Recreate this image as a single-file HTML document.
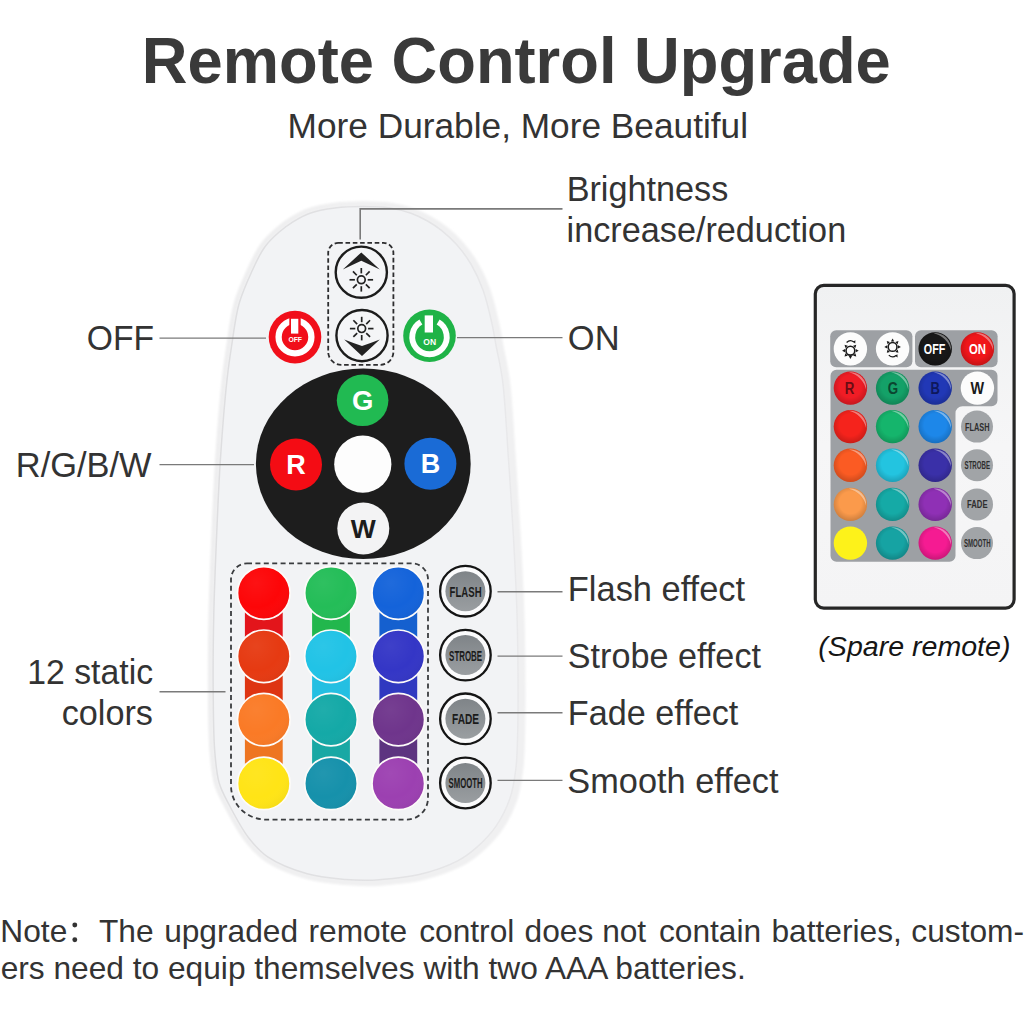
<!DOCTYPE html>
<html><head><meta charset="utf-8"><title>Remote Control Upgrade</title>
<style>
html,body{margin:0;padding:0;background:#fff;}
body{width:1024px;height:1024px;overflow:hidden;position:relative;font-family:"Liberation Sans",sans-serif;}
svg{position:absolute;left:0;top:0;display:block;}
text{font-family:"Liberation Sans",sans-serif;}
</style></head><body>
<svg width="1024" height="1024" viewBox="0 0 1024 1024">
<defs>
<filter id="soft" x="-5%" y="-5%" width="110%" height="110%"><feGaussianBlur stdDeviation="0.45"/></filter>
<filter id="soft2" x="-5%" y="-5%" width="110%" height="110%"><feGaussianBlur stdDeviation="0.9"/></filter>
<radialGradient id="gloss" cx="0.35" cy="0.3" r="0.8"><stop offset="0" stop-color="#fff" stop-opacity="0.05"/><stop offset="0.6" stop-color="#fff" stop-opacity="0"/><stop offset="1" stop-color="#000" stop-opacity="0.05"/></radialGradient>
<linearGradient id="edgeg" gradientUnits="userSpaceOnUse" x1="210" y1="0" x2="520" y2="0"><stop offset="0" stop-color="#dedee0"/><stop offset="0.6" stop-color="#e2e2e4"/><stop offset="1" stop-color="#e9e9eb"/></linearGradient>
<linearGradient id="sparebody" x1="0" y1="0" x2="0" y2="1"><stop offset="0" stop-color="#f0f1f2"/><stop offset="0.5" stop-color="#f6f6f7"/><stop offset="1" stop-color="#f4f4f5"/></linearGradient>
<radialGradient id="sgloss" cx="0.5" cy="0.45" r="0.55"><stop offset="0.6" stop-color="#000" stop-opacity="0"/><stop offset="1" stop-color="#000" stop-opacity="0.18"/></radialGradient>
<linearGradient id="graybtn" x1="0" y1="0" x2="0" y2="1"><stop offset="0" stop-color="#7f8488"/><stop offset="1" stop-color="#9a9ea1"/></linearGradient>
</defs>
<rect width="1024" height="1024" fill="#ffffff"/>

<text transform="translate(516.3,83.1) scale(1,1.025)" x="0" y="0" text-anchor="middle" font-size="63" font-weight="bold" fill="#3a3a3a" textLength="749" lengthAdjust="spacingAndGlyphs">Remote Control Upgrade</text>
<text x="517.8" y="137.7" text-anchor="middle" font-size="34.5" fill="#333" textLength="460.5" lengthAdjust="spacingAndGlyphs">More Durable, More Beautiful</text>
<g filter="url(#soft2)"><path d="M362.50,206.50 C353.33,206.50 343.91,206.84 335.00,208.00 C326.42,209.12 317.38,210.62 310.00,213.20 C303.62,215.43 298.25,218.57 293.00,221.80 C288.02,224.87 283.70,228.04 279.20,232.00 C274.21,236.38 268.95,241.16 264.60,247.20 C259.58,254.17 255.68,263.09 251.60,272.00 C247.08,281.88 242.26,292.43 239.00,304.00 C235.37,316.88 233.67,332.72 231.60,346.00 C229.75,357.91 228.49,366.32 227.00,380.00 C224.74,400.66 222.23,431.99 220.50,458.00 C218.77,483.99 217.72,510.00 216.60,536.00 C215.48,562.00 214.37,588.00 213.80,614.00 C213.23,640.00 212.97,667.70 213.20,692.00 C213.40,713.31 213.40,735.31 214.80,752.00 C215.81,764.06 216.51,773.78 219.20,783.00 C221.54,791.01 224.92,796.68 229.00,804.50 C234.21,814.49 241.44,828.47 248.60,837.70 C254.65,845.51 259.81,851.61 268.10,857.20 C278.38,864.14 293.92,870.08 307.20,873.80 C320.01,877.39 335.62,878.50 346.30,879.50 C353.65,880.19 359.22,880.28 365.00,880.30 C370.00,880.32 373.17,880.28 379.00,879.80 C388.77,879.00 405.22,877.84 418.10,874.80 C431.30,871.68 446.70,866.49 457.20,861.10 C465.16,857.01 470.48,852.88 476.70,847.40 C483.56,841.35 490.76,833.91 496.25,825.90 C501.88,817.69 506.64,808.09 509.90,798.60 C513.13,789.21 514.53,779.11 515.80,769.30 C517.05,759.58 517.11,750.97 517.50,740.00 C517.99,725.97 518.11,709.93 518.10,692.00 C518.08,669.14 517.78,639.99 517.00,614.00 C516.22,587.99 514.83,561.99 513.40,536.00 C511.97,509.99 510.22,483.99 508.40,458.00 C506.58,431.99 505.19,400.58 502.50,380.00 C500.72,366.37 498.11,356.48 496.20,346.25 C494.60,337.72 493.72,331.23 491.80,322.80 C489.51,312.74 486.66,300.10 483.00,290.00 C479.67,280.81 475.78,272.27 471.20,264.50 C466.90,257.22 461.76,250.45 456.60,244.60 C451.91,239.29 446.86,234.65 441.80,230.60 C437.14,226.88 432.55,223.87 427.50,221.00 C422.30,218.05 416.94,215.32 411.00,213.20 C404.53,210.89 397.53,209.13 390.00,208.00 C381.51,206.73 371.67,206.50 362.50,206.50 Z" fill="#ededee" stroke="#ededee" stroke-width="10.5" stroke-linejoin="round"/><path d="M362.50,206.50 C353.33,206.50 343.91,206.84 335.00,208.00 C326.42,209.12 317.38,210.62 310.00,213.20 C303.62,215.43 298.25,218.57 293.00,221.80 C288.02,224.87 283.70,228.04 279.20,232.00 C274.21,236.38 268.95,241.16 264.60,247.20 C259.58,254.17 255.68,263.09 251.60,272.00 C247.08,281.88 242.26,292.43 239.00,304.00 C235.37,316.88 233.67,332.72 231.60,346.00 C229.75,357.91 228.49,366.32 227.00,380.00 C224.74,400.66 222.23,431.99 220.50,458.00 C218.77,483.99 217.72,510.00 216.60,536.00 C215.48,562.00 214.37,588.00 213.80,614.00 C213.23,640.00 212.97,667.70 213.20,692.00 C213.40,713.31 213.40,735.31 214.80,752.00 C215.81,764.06 216.51,773.78 219.20,783.00 C221.54,791.01 224.92,796.68 229.00,804.50 C234.21,814.49 241.44,828.47 248.60,837.70 C254.65,845.51 259.81,851.61 268.10,857.20 C278.38,864.14 293.92,870.08 307.20,873.80 C320.01,877.39 335.62,878.50 346.30,879.50 C353.65,880.19 359.22,880.28 365.00,880.30 C370.00,880.32 373.17,880.28 379.00,879.80 C388.77,879.00 405.22,877.84 418.10,874.80 C431.30,871.68 446.70,866.49 457.20,861.10 C465.16,857.01 470.48,852.88 476.70,847.40 C483.56,841.35 490.76,833.91 496.25,825.90 C501.88,817.69 506.64,808.09 509.90,798.60 C513.13,789.21 514.53,779.11 515.80,769.30 C517.05,759.58 517.11,750.97 517.50,740.00 C517.99,725.97 518.11,709.93 518.10,692.00 C518.08,669.14 517.78,639.99 517.00,614.00 C516.22,587.99 514.83,561.99 513.40,536.00 C511.97,509.99 510.22,483.99 508.40,458.00 C506.58,431.99 505.19,400.58 502.50,380.00 C500.72,366.37 498.11,356.48 496.20,346.25 C494.60,337.72 493.72,331.23 491.80,322.80 C489.51,312.74 486.66,300.10 483.00,290.00 C479.67,280.81 475.78,272.27 471.20,264.50 C466.90,257.22 461.76,250.45 456.60,244.60 C451.91,239.29 446.86,234.65 441.80,230.60 C437.14,226.88 432.55,223.87 427.50,221.00 C422.30,218.05 416.94,215.32 411.00,213.20 C404.53,210.89 397.53,209.13 390.00,208.00 C381.51,206.73 371.67,206.50 362.50,206.50 Z" transform="translate(2.2,0.6)" fill="#efeff0" stroke="#f0f0f1" stroke-width="10.5" stroke-linejoin="round"/></g>
<g filter="url(#soft)"><path d="M362.50,206.50 C353.33,206.50 343.91,206.84 335.00,208.00 C326.42,209.12 317.38,210.62 310.00,213.20 C303.62,215.43 298.25,218.57 293.00,221.80 C288.02,224.87 283.70,228.04 279.20,232.00 C274.21,236.38 268.95,241.16 264.60,247.20 C259.58,254.17 255.68,263.09 251.60,272.00 C247.08,281.88 242.26,292.43 239.00,304.00 C235.37,316.88 233.67,332.72 231.60,346.00 C229.75,357.91 228.49,366.32 227.00,380.00 C224.74,400.66 222.23,431.99 220.50,458.00 C218.77,483.99 217.72,510.00 216.60,536.00 C215.48,562.00 214.37,588.00 213.80,614.00 C213.23,640.00 212.97,667.70 213.20,692.00 C213.40,713.31 213.40,735.31 214.80,752.00 C215.81,764.06 216.51,773.78 219.20,783.00 C221.54,791.01 224.92,796.68 229.00,804.50 C234.21,814.49 241.44,828.47 248.60,837.70 C254.65,845.51 259.81,851.61 268.10,857.20 C278.38,864.14 293.92,870.08 307.20,873.80 C320.01,877.39 335.62,878.50 346.30,879.50 C353.65,880.19 359.22,880.28 365.00,880.30 C370.00,880.32 373.17,880.28 379.00,879.80 C388.77,879.00 405.22,877.84 418.10,874.80 C431.30,871.68 446.70,866.49 457.20,861.10 C465.16,857.01 470.48,852.88 476.70,847.40 C483.56,841.35 490.76,833.91 496.25,825.90 C501.88,817.69 506.64,808.09 509.90,798.60 C513.13,789.21 514.53,779.11 515.80,769.30 C517.05,759.58 517.11,750.97 517.50,740.00 C517.99,725.97 518.11,709.93 518.10,692.00 C518.08,669.14 517.78,639.99 517.00,614.00 C516.22,587.99 514.83,561.99 513.40,536.00 C511.97,509.99 510.22,483.99 508.40,458.00 C506.58,431.99 505.19,400.58 502.50,380.00 C500.72,366.37 498.11,356.48 496.20,346.25 C494.60,337.72 493.72,331.23 491.80,322.80 C489.51,312.74 486.66,300.10 483.00,290.00 C479.67,280.81 475.78,272.27 471.20,264.50 C466.90,257.22 461.76,250.45 456.60,244.60 C451.91,239.29 446.86,234.65 441.80,230.60 C437.14,226.88 432.55,223.87 427.50,221.00 C422.30,218.05 416.94,215.32 411.00,213.20 C404.53,210.89 397.53,209.13 390.00,208.00 C381.51,206.73 371.67,206.50 362.50,206.50 Z" fill="#f2f3f5" stroke="url(#edgeg)" stroke-width="1.5"/></g>
<polyline points="360.2,239.6 360.2,208.9 562.5,208.9" fill="none" stroke="#7a7a7a" stroke-width="1.6"/>
<line x1="159.5" y1="338.1" x2="266.0" y2="338.1" stroke="#7a7a7a" stroke-width="1.4"/>
<line x1="457.0" y1="337.6" x2="562.5" y2="337.6" stroke="#7a7a7a" stroke-width="1.4"/>
<line x1="159.5" y1="464.6" x2="254.0" y2="464.6" stroke="#7a7a7a" stroke-width="1.4"/>
<line x1="159.5" y1="691.7" x2="225.5" y2="691.7" stroke="#7a7a7a" stroke-width="1.4"/>
<line x1="497.5" y1="591.8" x2="562.5" y2="591.8" stroke="#7a7a7a" stroke-width="1.4"/>
<line x1="497.5" y1="656.1" x2="562.5" y2="656.1" stroke="#7a7a7a" stroke-width="1.4"/>
<line x1="497.5" y1="712.8" x2="562.5" y2="712.8" stroke="#7a7a7a" stroke-width="1.4"/>
<line x1="497.5" y1="780.4" x2="562.5" y2="780.4" stroke="#7a7a7a" stroke-width="1.4"/>
<path d="M338.2,242.9 H383.4 A10,10 0 0 1 393.4,252.9 V351.8 A13,13 0 0 1 380.4,364.8 H341.2 A13,13 0 0 1 328.2,351.8 V252.9 A10,10 0 0 1 338.2,242.9 Z" fill="none" stroke="#2d2d2f" stroke-width="1.8" stroke-dasharray="4.6 2.7"/>
<circle cx="361.3" cy="272.2" r="25.6" fill="#f4f5f7" stroke="#1c1c1c" stroke-width="2.4"/>
<path d="M361.3,252.4 L379.8,269.4 Q370.2,265 361.3,260.8 Q352.4,265 342.8,269.4 Z" fill="#222"/>
<g stroke="#222" stroke-width="1.7" fill="none" stroke-linecap="butt"><circle cx="361.30" cy="279.80" r="3.9"/><line x1="367.70" y1="279.80" x2="373.10" y2="279.80"/><line x1="365.83" y1="284.33" x2="369.64" y2="288.14"/><line x1="361.30" y1="286.20" x2="361.30" y2="291.60"/><line x1="356.77" y1="284.33" x2="352.96" y2="288.14"/><line x1="354.90" y1="279.80" x2="349.50" y2="279.80"/><line x1="356.77" y1="275.27" x2="352.96" y2="271.46"/><line x1="361.30" y1="273.40" x2="361.30" y2="268.00"/><line x1="365.83" y1="275.27" x2="369.64" y2="271.46"/></g>
<circle cx="362" cy="335.6" r="25.6" fill="#f4f5f7" stroke="#1c1c1c" stroke-width="2.4"/>
<path d="M362,356 L344.2,339.6 Q353.2,343.2 362,346.0 Q370.8,343.2 379.8,339.6 Z" fill="#222"/>
<g stroke="#222" stroke-width="1.7" fill="none" stroke-linecap="butt"><circle cx="361.70" cy="328.60" r="3.9"/><line x1="368.10" y1="328.60" x2="373.50" y2="328.60"/><line x1="366.23" y1="333.13" x2="370.04" y2="336.94"/><line x1="361.70" y1="335.00" x2="361.70" y2="340.40"/><line x1="357.17" y1="333.13" x2="353.36" y2="336.94"/><line x1="355.30" y1="328.60" x2="349.90" y2="328.60"/><line x1="357.17" y1="324.07" x2="353.36" y2="320.26"/><line x1="361.70" y1="322.20" x2="361.70" y2="316.80"/><line x1="366.23" y1="324.07" x2="370.04" y2="320.26"/></g>
<circle cx="295.00" cy="337.10" r="26.3" fill="#f10f1a"/><circle cx="295.00" cy="337.00" r="16.40" fill="none" stroke="#fff" stroke-width="6.30"/><rect x="289.30" y="314.30" width="11.40" height="14.10" fill="#f10f1a"/><rect x="291.00" y="318.80" width="7.30" height="14.80" fill="#fff"/><text x="295.20" y="342.30" text-anchor="middle" font-size="6.8" font-weight="bold" fill="#fff" textLength="13.6" lengthAdjust="spacingAndGlyphs">OFF</text>
<circle cx="429.50" cy="335.80" r="26.3" fill="#1fb347"/><path d="M438.12,322.06 A17.25,17.25 0 1 1 420.88,322.06" fill="none" stroke="#fff" stroke-width="5.90"/><rect x="424.70" y="315.40" width="8.30" height="17.10" fill="#fff"/><text x="429.70" y="344.70" text-anchor="middle" font-size="9.8" font-weight="bold" fill="#fff" textLength="12.8" lengthAdjust="spacingAndGlyphs">ON</text>
<ellipse cx="363.3" cy="463.8" rx="107.4" ry="95.3" fill="#1d1d1d"/>
<circle cx="362.60" cy="400.30" r="25.80" fill="#21ba52"/><text x="362.60" y="410.10" text-anchor="middle" font-size="27.5" font-weight="bold" fill="#fff">G</text>
<circle cx="296.00" cy="464.50" r="26.00" fill="#f40c14"/><text x="296.00" y="474.10" text-anchor="middle" font-size="27.0" font-weight="bold" fill="#fff">R</text>
<circle cx="430.40" cy="463.80" r="26.00" fill="#1a6bd6"/><text x="430.40" y="473.40" text-anchor="middle" font-size="27.0" font-weight="bold" fill="#fff">B</text>
<circle cx="362.80" cy="464.20" r="28.60" fill="#fdfdfd"/>
<circle cx="363.30" cy="528.50" r="26.00" fill="#f3f3f4"/><text x="363.30" y="537.90" text-anchor="middle" font-size="26.5" font-weight="bold" fill="#1c1c1c">W</text>
<path d="M247,563.4 H412 A16,16 0 0 1 428,579.4 V798 A21.5,21.5 0 0 1 406.5,819.6 H266 A35,34 0 0 1 231,785.6 V579.4 A16,16 0 0 1 247,563.4 Z" fill="none" stroke="#3a3c3f" stroke-width="1.8" stroke-dasharray="5 3.4"/>
<rect x="244.90" y="593.00" width="37.8" height="63.30" fill="#e3151b"/>
<rect x="244.90" y="656.30" width="37.8" height="63.30" fill="#de3512"/>
<rect x="244.90" y="719.60" width="37.8" height="63.80" fill="#ee7521"/>
<rect x="312.10" y="593.00" width="37.8" height="63.30" fill="#22b74d"/>
<rect x="312.10" y="656.30" width="37.8" height="63.30" fill="#24bfe2"/>
<rect x="312.10" y="719.60" width="37.8" height="63.80" fill="#19a8a4"/>
<rect x="379.40" y="593.00" width="37.8" height="63.30" fill="#1560cf"/>
<rect x="379.40" y="656.30" width="37.8" height="63.30" fill="#2f39c0"/>
<rect x="379.40" y="719.60" width="37.8" height="63.80" fill="#5d3480"/>
<circle cx="263.80" cy="593.00" r="26.3" fill="#fd0608" stroke="#fdfbf9" stroke-width="1.7"/>
<circle cx="263.80" cy="593.00" r="25.4" fill="url(#gloss)"/>
<circle cx="331.00" cy="593.00" r="26.3" fill="#24bd58" stroke="#fdfbf9" stroke-width="1.7"/>
<circle cx="331.00" cy="593.00" r="25.4" fill="url(#gloss)"/>
<circle cx="398.30" cy="593.00" r="26.3" fill="#1463da" stroke="#fdfbf9" stroke-width="1.7"/>
<circle cx="398.30" cy="593.00" r="25.4" fill="url(#gloss)"/>
<circle cx="263.80" cy="656.30" r="26.3" fill="#e63a12" stroke="#fdfbf9" stroke-width="1.7"/>
<circle cx="263.80" cy="656.30" r="25.4" fill="url(#gloss)"/>
<circle cx="331.00" cy="656.30" r="26.3" fill="#21c3e6" stroke="#fdfbf9" stroke-width="1.7"/>
<circle cx="331.00" cy="656.30" r="25.4" fill="url(#gloss)"/>
<circle cx="398.30" cy="656.30" r="26.3" fill="#3436c6" stroke="#fdfbf9" stroke-width="1.7"/>
<circle cx="398.30" cy="656.30" r="25.4" fill="url(#gloss)"/>
<circle cx="263.80" cy="719.60" r="26.3" fill="#fa7a26" stroke="#fdfbf9" stroke-width="1.7"/>
<circle cx="263.80" cy="719.60" r="25.4" fill="url(#gloss)"/>
<circle cx="331.00" cy="719.60" r="26.3" fill="#14a9a7" stroke="#fdfbf9" stroke-width="1.7"/>
<circle cx="331.00" cy="719.60" r="25.4" fill="url(#gloss)"/>
<circle cx="398.30" cy="719.60" r="26.3" fill="#6f358c" stroke="#fdfbf9" stroke-width="1.7"/>
<circle cx="398.30" cy="719.60" r="25.4" fill="url(#gloss)"/>
<circle cx="263.80" cy="783.40" r="26.3" fill="#ffe416" stroke="#fdfbf9" stroke-width="1.7"/>
<circle cx="263.80" cy="783.40" r="25.4" fill="url(#gloss)"/>
<circle cx="331.00" cy="783.40" r="26.3" fill="#1691ab" stroke="#fdfbf9" stroke-width="1.7"/>
<circle cx="331.00" cy="783.40" r="25.4" fill="url(#gloss)"/>
<circle cx="398.30" cy="783.40" r="26.3" fill="#9c40b1" stroke="#fdfbf9" stroke-width="1.7"/>
<circle cx="398.30" cy="783.40" r="25.4" fill="url(#gloss)"/>
<circle cx="465.4" cy="591.20" r="25.3" fill="#fbfbfc" stroke="#151515" stroke-width="2.3"/>
<circle cx="465.4" cy="591.20" r="20.0" fill="url(#graybtn)"/>
<text x="465.6" y="596.60" text-anchor="middle" font-size="14.8" font-weight="bold" fill="#1b1b1b" textLength="32" lengthAdjust="spacingAndGlyphs">FLASH</text>
<circle cx="465.4" cy="655.10" r="25.3" fill="#fbfbfc" stroke="#151515" stroke-width="2.3"/>
<circle cx="465.4" cy="655.10" r="20.0" fill="url(#graybtn)"/>
<text x="465.6" y="660.50" text-anchor="middle" font-size="14.8" font-weight="bold" fill="#1b1b1b" textLength="33" lengthAdjust="spacingAndGlyphs">STROBE</text>
<circle cx="465.4" cy="718.80" r="25.3" fill="#fbfbfc" stroke="#151515" stroke-width="2.3"/>
<circle cx="465.4" cy="718.80" r="20.0" fill="url(#graybtn)"/>
<text x="465.6" y="724.20" text-anchor="middle" font-size="14.8" font-weight="bold" fill="#1b1b1b" textLength="27" lengthAdjust="spacingAndGlyphs">FADE</text>
<circle cx="465.4" cy="783.00" r="25.3" fill="#fbfbfc" stroke="#151515" stroke-width="2.3"/>
<circle cx="465.4" cy="783.00" r="20.0" fill="url(#graybtn)"/>
<text x="465.6" y="788.40" text-anchor="middle" font-size="14.8" font-weight="bold" fill="#1b1b1b" textLength="34" lengthAdjust="spacingAndGlyphs">SMOOTH</text>
<text transform="translate(569.40,200.60) scale(0.9973,1)" x="-2.74" y="0" font-size="34.30" fill="#333333">Brightness</text>
<text transform="translate(568.80,241.80) scale(0.9979,1)" x="-2.23" y="0" font-size="34.30" fill="#333333">increase/reduction</text>
<text transform="translate(569.40,350.40) scale(1.0050,1)" x="-1.54" y="0" font-size="34.30" fill="#333333">ON</text>
<text transform="translate(88.30,350.30) scale(0.9804,1)" x="-1.54" y="0" font-size="34.30" fill="#333333">OFF</text>
<text transform="translate(18.55,477.10) scale(1.0034,1)" x="-2.74" y="0" font-size="34.30" fill="#333333">R/G/B/W</text>
<text transform="translate(29.80,684.00) scale(0.9852,1)" x="-2.57" y="0" font-size="34.30" fill="#333333">12 static</text>
<text transform="translate(63.00,725.00) scale(0.9988,1)" x="-1.37" y="0" font-size="34.30" fill="#333333">colors</text>
<text transform="translate(570.60,600.60) scale(1.0033,1)" x="-2.74" y="0" font-size="34.30" fill="#333333">Flash effect</text>
<text transform="translate(569.30,667.80) scale(0.9970,1)" x="-1.54" y="0" font-size="34.30" fill="#333333">Strobe effect</text>
<text transform="translate(570.60,724.70) scale(0.9970,1)" x="-2.74" y="0" font-size="34.30" fill="#333333">Fade effect</text>
<text transform="translate(568.90,792.90) scale(1.0008,1)" x="-1.54" y="0" font-size="34.30" fill="#333333">Smooth effect</text>
<rect x="815.3" y="285.3" width="198.8" height="322.8" rx="8.5" ry="8.5" fill="url(#sparebody)" stroke="#262626" stroke-width="3.2"/>
<rect x="830.2" y="330.3" width="82.2" height="37" rx="6" fill="#9da0a4"/>
<rect x="915" y="330.3" width="82.6" height="37" rx="6" fill="#9da0a4"/>
<path d="M836.5,369.8 H991.5 A6,6 0 0 1 997.5,375.8 V400.2 A6,6 0 0 1 991.5,406.2 H962.5 A7,7 0 0 0 955.5,413.2 V555.8 A6,6 0 0 1 949.5,561.8 H836.5 A6,6 0 0 1 830.5,555.8 V375.8 A6,6 0 0 1 836.5,369.8 Z" fill="#9da0a4"/>
<circle cx="850.40" cy="348.90" r="16.70" fill="#fcfcfc"/>
<g stroke="#1a1a1a" fill="none"><circle cx="850.40" cy="350.70" r="4.4" stroke-width="1.6"/><path d="M855.80,352.35 L855.80,349.05 L858.70,350.70 Z" fill="#1a1a1a" stroke="none"/><path d="M853.05,355.69 L855.39,353.35 L856.27,356.57 Z" fill="#1a1a1a" stroke="none"/><path d="M848.75,356.10 L852.05,356.10 L850.40,359.00 Z" fill="#1a1a1a" stroke="none"/><path d="M845.41,353.35 L847.75,355.69 L844.53,356.57 Z" fill="#1a1a1a" stroke="none"/><path d="M845.00,349.05 L845.00,352.35 L842.10,350.70 Z" fill="#1a1a1a" stroke="none"/><path d="M847.75,345.71 L845.41,348.05 L844.53,344.83 Z" fill="#1a1a1a" stroke="none"/><path d="M855.39,348.05 L853.05,345.71 L856.27,344.83 Z" fill="#1a1a1a" stroke="none"/><path d="M846.60,342.50 q3.6,-3.4 7.2,-0.4" stroke-width="1.3"/><path d="M852.80,341.80 l2.6,-1.6 l-0.2,3.2 z" fill="#1a1a1a" stroke="none"/></g>
<circle cx="892.60" cy="348.90" r="16.70" fill="#fcfcfc"/>
<g stroke="#1a1a1a" fill="none"><circle cx="892.60" cy="346.90" r="4.4" stroke-width="1.6"/><path d="M898.00,348.55 L898.00,345.25 L900.90,346.90 Z" fill="#1a1a1a" stroke="none"/><path d="M895.25,351.89 L897.59,349.55 L898.47,352.77 Z" fill="#1a1a1a" stroke="none"/><path d="M887.61,349.55 L889.95,351.89 L886.73,352.77 Z" fill="#1a1a1a" stroke="none"/><path d="M887.20,345.25 L887.20,348.55 L884.30,346.90 Z" fill="#1a1a1a" stroke="none"/><path d="M889.95,341.91 L887.61,344.25 L886.73,341.03 Z" fill="#1a1a1a" stroke="none"/><path d="M894.25,341.50 L890.95,341.50 L892.60,338.60 Z" fill="#1a1a1a" stroke="none"/><path d="M897.59,344.25 L895.25,341.91 L898.47,341.03 Z" fill="#1a1a1a" stroke="none"/><path d="M888.80,355.10 q3.6,3.4 7.2,0.4" stroke-width="1.3"/><path d="M895.00,355.80 l2.6,1.6 l-0.2,-3.2 z" fill="#1a1a1a" stroke="none"/></g>
<circle cx="935.20" cy="348.90" r="16.70" fill="#181818"/>
<circle cx="935.20" cy="348.90" r="16.70" fill="url(#sgloss)"/>
<path d="M933.67,333.17 A15.80,15.80 0 0 1 950.93,350.43 A23.23,23.23 0 0 0 933.67,333.17 Z" fill="#fff" opacity="0.42"/>
<text x="934.60" y="354.30" text-anchor="middle" font-size="15.5" fill="#fff" font-weight="bold" textLength="21.5" lengthAdjust="spacingAndGlyphs">OFF</text>
<circle cx="977.40" cy="348.90" r="16.70" fill="#f0161a"/>
<circle cx="977.40" cy="348.90" r="16.70" fill="url(#sgloss)"/>
<path d="M975.87,333.17 A15.80,15.80 0 0 1 993.13,350.43 A23.23,23.23 0 0 0 975.87,333.17 Z" fill="#fff" opacity="0.42"/>
<text x="977.40" y="354.30" text-anchor="middle" font-size="15.5" fill="#fff" font-weight="bold" textLength="17.0" lengthAdjust="spacingAndGlyphs">ON</text>
<circle cx="850.40" cy="388.10" r="16.70" fill="#f01c25"/>
<circle cx="850.40" cy="388.10" r="16.70" fill="url(#sgloss)"/>
<path d="M848.87,372.37 A15.80,15.80 0 0 1 866.13,389.63 A23.23,23.23 0 0 0 848.87,372.37 Z" fill="#fff" opacity="0.42"/>
<text x="849.60" y="393.70" text-anchor="middle" font-size="16.0" fill="#6a0c14" font-weight="bold" textLength="9.6" lengthAdjust="spacingAndGlyphs">R</text>
<circle cx="892.60" cy="388.10" r="16.70" fill="#14a168"/>
<circle cx="892.60" cy="388.10" r="16.70" fill="url(#sgloss)"/>
<path d="M891.07,372.37 A15.80,15.80 0 0 1 908.33,389.63 A23.23,23.23 0 0 0 891.07,372.37 Z" fill="#fff" opacity="0.42"/>
<text x="893.00" y="393.70" text-anchor="middle" font-size="16.0" fill="#0b4630" font-weight="bold" textLength="10.4" lengthAdjust="spacingAndGlyphs">G</text>
<circle cx="935.20" cy="388.10" r="16.70" fill="#2138b6"/>
<circle cx="935.20" cy="388.10" r="16.70" fill="url(#sgloss)"/>
<path d="M933.67,372.37 A15.80,15.80 0 0 1 950.93,389.63 A23.23,23.23 0 0 0 933.67,372.37 Z" fill="#fff" opacity="0.42"/>
<text x="935.20" y="393.70" text-anchor="middle" font-size="16.0" fill="#0e185c" font-weight="bold" textLength="9.4" lengthAdjust="spacingAndGlyphs">B</text>
<circle cx="977.40" cy="388.10" r="16.70" fill="#fcfcfc"/>
<text x="977.40" y="393.90" text-anchor="middle" font-size="16.5" fill="#1a1a1a" font-weight="bold" textLength="13.6" lengthAdjust="spacingAndGlyphs">W</text>
<circle cx="850.40" cy="426.60" r="16.70" fill="#f5231c"/>
<circle cx="850.40" cy="426.60" r="16.70" fill="url(#sgloss)"/>
<path d="M848.87,410.87 A15.80,15.80 0 0 1 866.13,428.13 A23.23,23.23 0 0 0 848.87,410.87 Z" fill="#fff" opacity="0.42"/>
<circle cx="892.60" cy="426.60" r="16.70" fill="#15b56c"/>
<circle cx="892.60" cy="426.60" r="16.70" fill="url(#sgloss)"/>
<path d="M891.07,410.87 A15.80,15.80 0 0 1 908.33,428.13 A23.23,23.23 0 0 0 891.07,410.87 Z" fill="#fff" opacity="0.42"/>
<circle cx="935.20" cy="426.60" r="16.70" fill="#1d87e9"/>
<circle cx="935.20" cy="426.60" r="16.70" fill="url(#sgloss)"/>
<path d="M933.67,410.87 A15.80,15.80 0 0 1 950.93,428.13 A23.23,23.23 0 0 0 933.67,410.87 Z" fill="#fff" opacity="0.42"/>
<circle cx="850.40" cy="465.30" r="16.70" fill="#fb5b23"/>
<circle cx="850.40" cy="465.30" r="16.70" fill="url(#sgloss)"/>
<path d="M848.87,449.57 A15.80,15.80 0 0 1 866.13,466.83 A23.23,23.23 0 0 0 848.87,449.57 Z" fill="#fff" opacity="0.42"/>
<circle cx="892.60" cy="465.30" r="16.70" fill="#23c4e0"/>
<circle cx="892.60" cy="465.30" r="16.70" fill="url(#sgloss)"/>
<path d="M891.07,449.57 A15.80,15.80 0 0 1 908.33,466.83 A23.23,23.23 0 0 0 891.07,449.57 Z" fill="#fff" opacity="0.42"/>
<circle cx="935.20" cy="465.30" r="16.70" fill="#3a30a8"/>
<circle cx="935.20" cy="465.30" r="16.70" fill="url(#sgloss)"/>
<path d="M933.67,449.57 A15.80,15.80 0 0 1 950.93,466.83 A23.23,23.23 0 0 0 933.67,449.57 Z" fill="#fff" opacity="0.42"/>
<circle cx="850.40" cy="504.40" r="16.70" fill="#fb9a4b"/>
<circle cx="850.40" cy="504.40" r="16.70" fill="url(#sgloss)"/>
<path d="M848.87,488.67 A15.80,15.80 0 0 1 866.13,505.93 A23.23,23.23 0 0 0 848.87,488.67 Z" fill="#fff" opacity="0.42"/>
<circle cx="892.60" cy="504.40" r="16.70" fill="#15aaa6"/>
<circle cx="892.60" cy="504.40" r="16.70" fill="url(#sgloss)"/>
<path d="M891.07,488.67 A15.80,15.80 0 0 1 908.33,505.93 A23.23,23.23 0 0 0 891.07,488.67 Z" fill="#fff" opacity="0.42"/>
<circle cx="935.20" cy="504.40" r="16.70" fill="#8f30b5"/>
<circle cx="935.20" cy="504.40" r="16.70" fill="url(#sgloss)"/>
<path d="M933.67,488.67 A15.80,15.80 0 0 1 950.93,505.93 A23.23,23.23 0 0 0 933.67,488.67 Z" fill="#fff" opacity="0.42"/>
<circle cx="850.40" cy="543.10" r="16.70" fill="#fdf21a"/>
<circle cx="892.60" cy="543.10" r="16.70" fill="#16a3a3"/>
<circle cx="892.60" cy="543.10" r="16.70" fill="url(#sgloss)"/>
<path d="M891.07,527.37 A15.80,15.80 0 0 1 908.33,544.63 A23.23,23.23 0 0 0 891.07,527.37 Z" fill="#fff" opacity="0.42"/>
<circle cx="935.20" cy="543.10" r="16.70" fill="#f51b92"/>
<circle cx="935.20" cy="543.10" r="16.70" fill="url(#sgloss)"/>
<path d="M933.67,527.37 A15.80,15.80 0 0 1 950.93,544.63 A23.23,23.23 0 0 0 933.67,527.37 Z" fill="#fff" opacity="0.42"/>
<circle cx="977.00" cy="426.60" r="16.00" fill="#a1a4a7"/>
<text x="977.30" y="430.60" text-anchor="middle" font-size="10.8" fill="#2e2e2e" font-weight="bold" textLength="24.5" lengthAdjust="spacingAndGlyphs">FLASH</text>
<circle cx="977.00" cy="465.30" r="16.00" fill="#a1a4a7"/>
<text x="977.30" y="469.30" text-anchor="middle" font-size="10.8" fill="#2e2e2e" font-weight="bold" textLength="25.5" lengthAdjust="spacingAndGlyphs">STROBE</text>
<circle cx="977.00" cy="504.40" r="16.00" fill="#a1a4a7"/>
<text x="977.30" y="508.40" text-anchor="middle" font-size="10.8" fill="#2e2e2e" font-weight="bold" textLength="20.5" lengthAdjust="spacingAndGlyphs">FADE</text>
<circle cx="977.00" cy="543.10" r="16.00" fill="#a1a4a7"/>
<text x="977.30" y="547.10" text-anchor="middle" font-size="10.8" fill="#2e2e2e" font-weight="bold" textLength="26.5" lengthAdjust="spacingAndGlyphs">SMOOTH</text>
<text transform="translate(819.60,655.80) scale(1.0207,1)" x="-1.26" y="0" font-size="28.00" fill="#151515" font-style="italic">(Spare remote)</text>
<text x="0.36" y="942.20" font-size="31.70" fill="#333333">Note</text>
<text x="98.97" y="942.20" font-size="31.70" fill="#333333">The</text>
<text x="164.14" y="942.20" font-size="31.70" fill="#333333">upgraded</text>
<text x="308.54" y="942.20" font-size="31.70" fill="#333333">remote</text>
<text x="419.23" y="942.20" font-size="31.70" fill="#333333">control</text>
<text x="524.53" y="942.20" font-size="31.70" fill="#333333">does</text>
<text x="602.14" y="942.20" font-size="31.70" fill="#333333">not</text>
<text x="658.93" y="942.20" font-size="31.70" fill="#333333">contain</text>
<text x="771.44" y="942.20" font-size="31.70" fill="#333333">batteries,</text>
<text x="911.33" y="942.20" font-size="31.70" fill="#333333">custom-</text>
<circle cx="74.8" cy="925.0" r="2.45" fill="#333333"/><circle cx="74.8" cy="939.8" r="2.45" fill="#333333"/>
<text x="0.63" y="979.10" font-size="31.70" fill="#333333">ers need to equip themselves with two AAA batteries.</text>
</svg></body></html>
